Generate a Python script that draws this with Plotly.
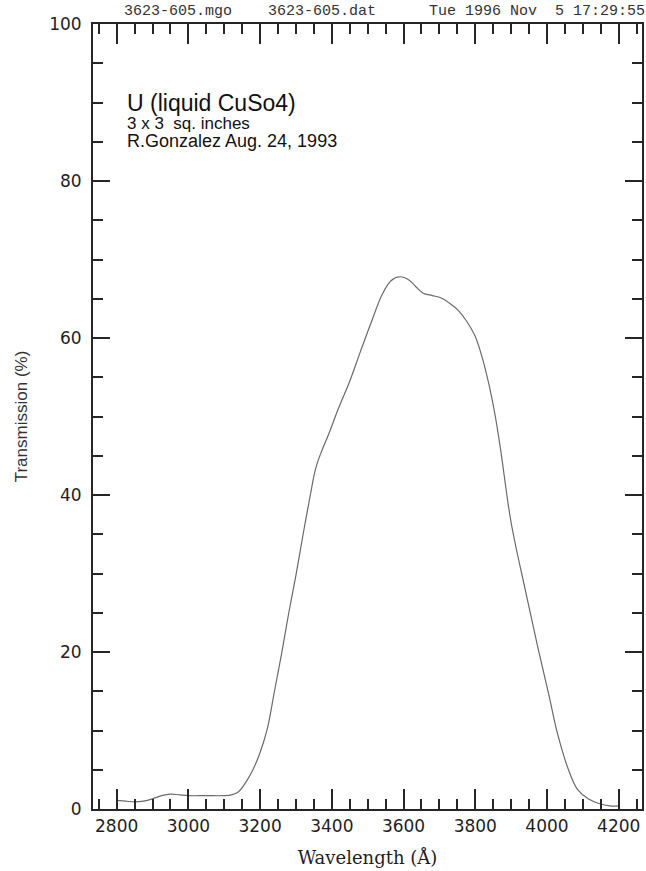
import plotly.graph_objects as go

# Transmission curve of the U filter (liquid CuSO4 cell)
wavelength = [2800, 2825, 2850, 2875, 2900, 2925, 2950, 2975, 3000, 3050,
              3100, 3120, 3140, 3160, 3180, 3200, 3220, 3240, 3260, 3280,
              3300, 3320, 3340, 3355, 3370, 3390, 3420, 3450, 3480, 3510,
              3540, 3565, 3590, 3615, 3635, 3655, 3680, 3705, 3735, 3755,
              3775, 3800, 3820, 3840, 3856, 3870, 3900, 3940, 3975, 4005,
              4030, 4060, 4085, 4115, 4145, 4175, 4200]
transmission = [1.1, 1.0, 0.9, 1.0, 1.3, 1.7, 1.9, 1.8, 1.7, 1.7,
                1.7, 1.8, 2.2, 3.4, 5.0, 7.2, 10.2, 15.0, 19.8, 25.0,
                29.8, 35.0, 40.0, 43.4, 45.4, 47.6, 51.2, 54.5, 58.3, 62.0,
                65.5, 67.3, 67.8, 67.4, 66.5, 65.7, 65.4, 65.1, 64.2, 63.4,
                62.2, 60.2, 57.4, 53.7, 50.0, 46.0, 36.5, 27.8, 20.5, 14.6,
                9.5, 5.0, 2.5, 1.3, 0.7, 0.4, 0.4]

x_range = [2734, 4265]
y_range = [0, 100]

header_items = ["3623-605.mgo", "3623-605.dat", "Tue 1996 Nov  5 17:29:55"]
label_lines = ["U (liquid CuSo4)", "3 x 3 \u00a0sq. inches", "R.Gonzalez Aug. 24, 1993"]
label_sizes = [23, 17, 18]

W, H = 646, 871
L, R, T, B = 93, 2, 24, 62
plot_w = W - L - R
plot_h = H - T - B


def px(x):
    return (x - L) / plot_w


def py(y):
    return (H - B - y) / plot_h


AXIS = "#262626"
fig = go.Figure()
fig.add_trace(go.Scatter(x=wavelength, y=transmission, mode="lines",
                         line=dict(color="#6a6a6a", width=1.2),
                         line_shape="spline", hoverinfo="skip",
                         showlegend=False))

common = dict(showgrid=False, zeroline=False, showline=True, linecolor=AXIS,
              linewidth=2, mirror="allticks", ticks="inside", tickcolor=AXIS,
              tickwidth=1.6,
              tickfont=dict(family="DejaVu Sans", size=17, color="#1e1e1e"))

fig.update_xaxes(range=x_range, tick0=2800, dtick=200, ticklen=20,
                 ticklabelstandoff=1,
                 minor=dict(ticks="inside", tick0=2800, dtick=50, ticklen=10,
                            tickwidth=1.6, tickcolor=AXIS, showgrid=False),
                 title=dict(text="Wavelength (\u00c5)", standoff=16,
                            font=dict(family="DejaVu Serif", size=18,
                                      color="#1e1e1e")),
                 **common)
fig.update_yaxes(range=y_range, tick0=0, dtick=20, ticklen=17,
                 ticklabelstandoff=6,
                 minor=dict(ticks="inside", tick0=0, dtick=5, ticklen=10,
                            tickwidth=1.6, tickcolor=AXIS, showgrid=False),
                 title=dict(text="Transmission (%)", standoff=17,
                            font=dict(family="Liberation Sans", size=17,
                                      color="#333333")),
                 **common)

annotations = []
for text, left in zip(header_items, [123, 268, 429]):
    annotations.append(dict(text=text, x=px(left), y=py(11), xref="paper",
                            yref="paper", xanchor="left", yanchor="middle",
                            showarrow=False, borderpad=0,
                            font=dict(family="Liberation Mono", size=15,
                                      color="#333333")))

# filter label block: three lines in one text element
label_html = "<br>".join(
    f'<span style="font-size:{s}px">{t}</span>'
    for t, s in zip(label_lines, label_sizes))
annotations.append(dict(text=label_html, x=px(126), y=py(89), xref="paper",
                        yref="paper", xanchor="left", yanchor="top",
                        align="left", showarrow=False, borderpad=0,
                        font=dict(family="Liberation Sans", size=14,
                                  color="#111111")))

fig.update_layout(width=W, height=H, margin=dict(l=L, r=R, t=T, b=B),
                  paper_bgcolor="white", plot_bgcolor="white",
                  annotations=annotations)

fig.write_html("out.html")
